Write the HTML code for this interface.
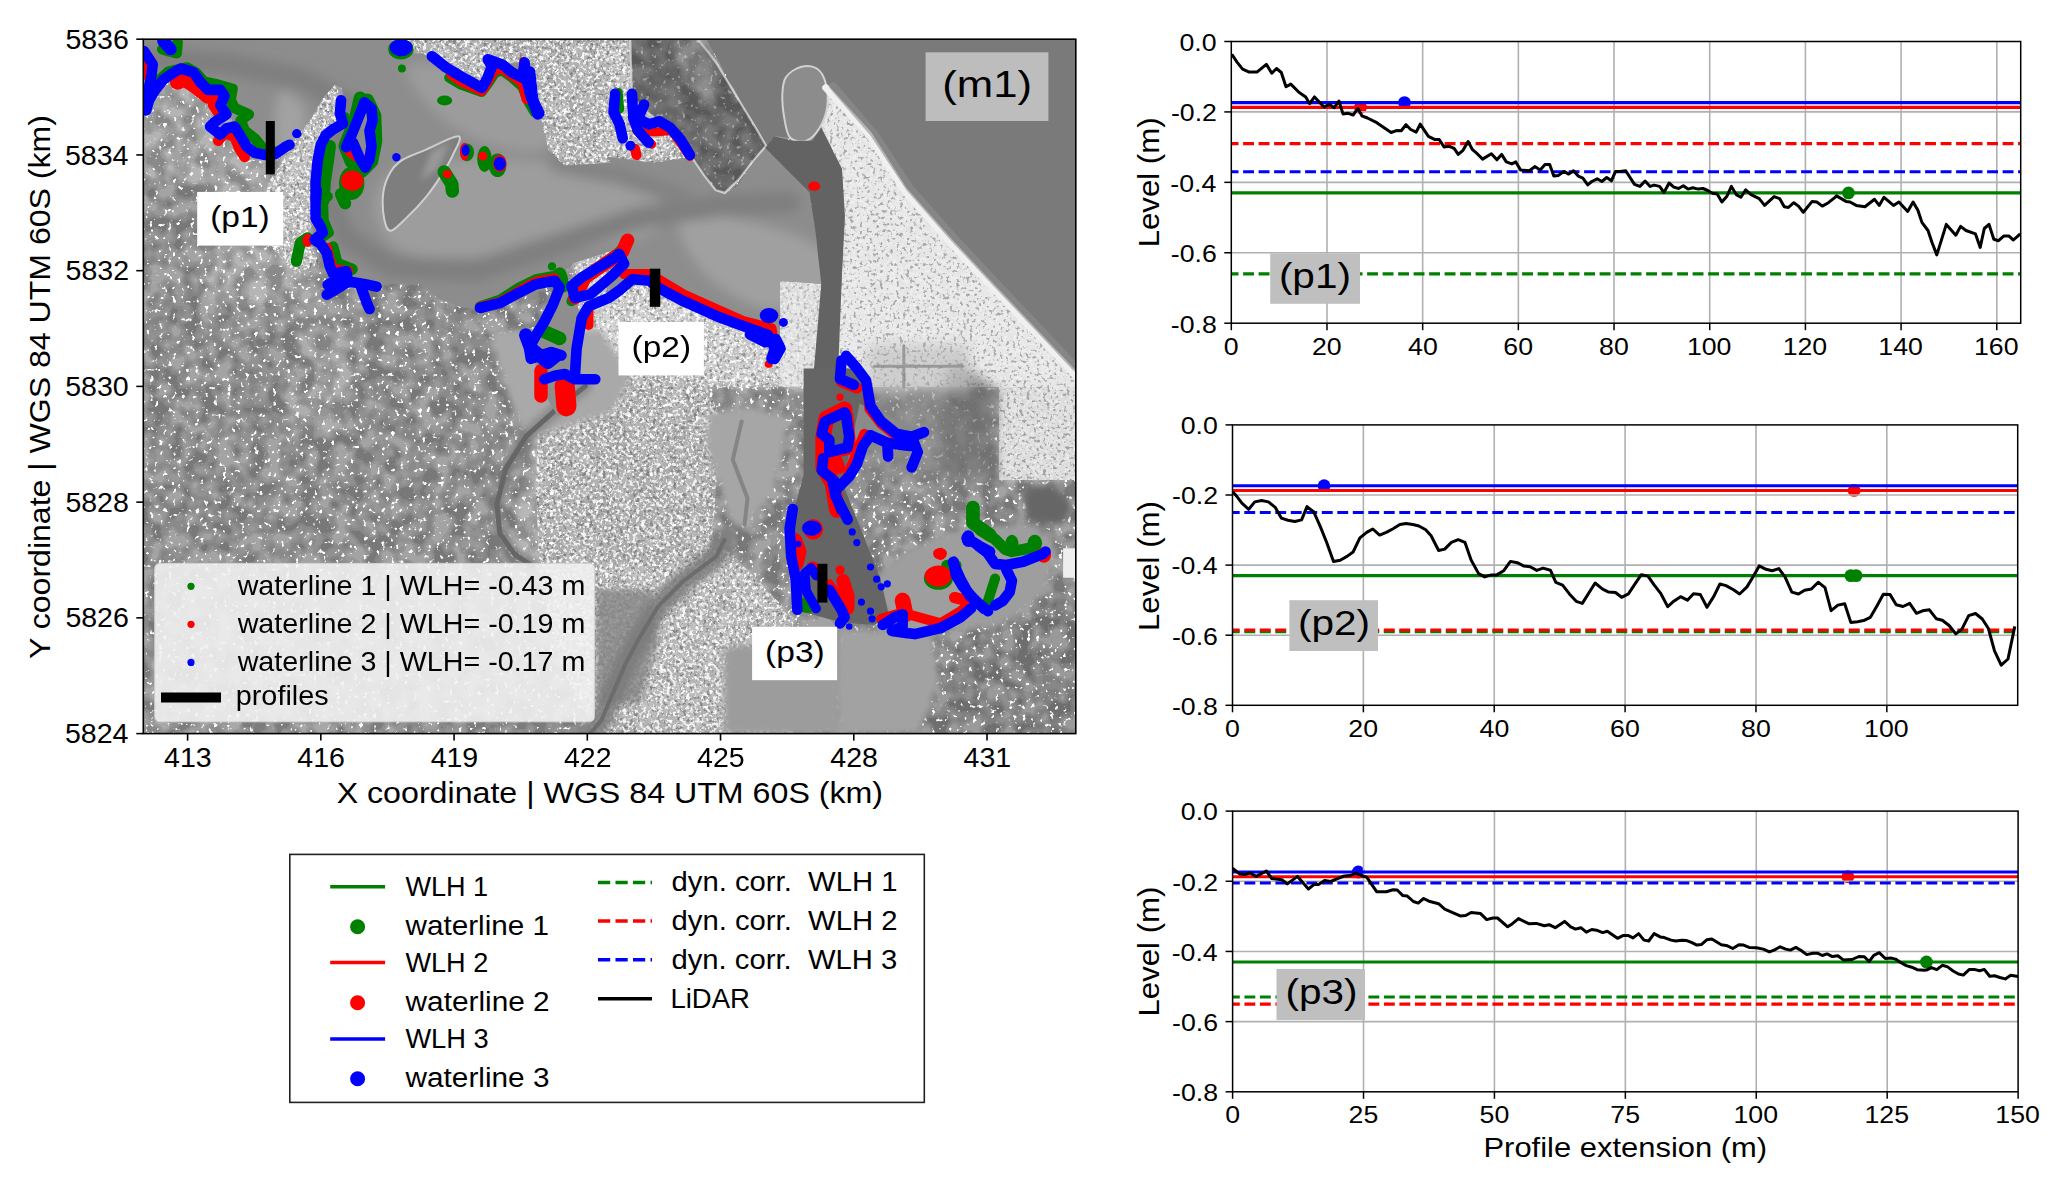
<!DOCTYPE html>
<html><head><meta charset="utf-8"><style>html,body{margin:0;padding:0;background:#fff;overflow:hidden}svg{display:block}</style></head><body>
<svg width="2067" height="1180" viewBox="0 0 2067 1180" font-family='"Liberation Sans", sans-serif'>
<rect width="2067" height="1180" fill="#fff"/>
<defs>
<clipPath id="mapclip"><rect x="143.3" y="39.2" width="932.5" height="694.4"/></clipPath>
<clipPath id="urbclip"><path d="M296.3,136.3 L334.7,84.7 L346.5,112.7 L343.5,127.5 L319.9,142.2 L315.5,204.1 L308.1,242.5 L319.9,263.1 L296.3,274.9 L269.8,245.4 L261.0,204.1 L269.8,180.6 L281.6,162.9 Z"/><path d="M390.7,39.0 L610.1,39.0 L610.1,162.9 L564.7,165.8 L548.5,151.1 L539.6,114.2 L530.8,86.2 L523.4,61.1 L496.9,67.0 L482.1,92.1 L452.6,71.4 L423.2,53.7 L399.6,52.3 Z"/><path d="M608.9,39.0 L630.2,39.0 L631.9,97.1 L647.0,112.1 L659.4,121.3 L677.7,133.7 L691.2,156.4 L653.2,162.9 L608.9,157.0 Z"/><path d="M608.9,298.5 L638.4,274.9 L662.0,280.8 L697.4,298.5 L741.6,322.1 L771.1,330.9 L780.0,348.6 L780.0,387.0 L608.9,387.0 L610.1,387.0 L585.3,387.0 L573.6,363.4 L579.4,304.4 L573.6,263.1 L610.1,251.3 Z"/><path d="M825.7,83.2 L833.1,93.6 L844.9,107.4 L868.4,136.3 L903.8,192.3 L948.1,242.5 L992.3,289.7 L1045.4,345.7 L1076.1,378.1 L1076.1,387.0 L836.0,387.0 L841.9,274.9 L844.9,215.9 L841.9,168.8 L821.3,127.5 L827.2,106.8 Z"/><path d="M780.0,280.8 L821.3,283.8 L815.4,387.0 L780.0,387.0 Z"/><path d="M540.2,376.7 L594.4,372.2 L702.7,379.0 L720.8,417.4 L711.7,552.8 L743.3,588.9 L793.0,616.0 L793.0,733.8 L594.4,733.8 L562.8,670.1 L540.2,579.9 L535.7,489.6 Z"/><path d="M999.1,386.1 L1076.1,374.3 L1076.1,479.9 L999.1,479.9 Z"/><path d="M621.5,566.3 L729.8,552.8 L793.0,616.0 L793.0,733.8 L639.5,733.8 Z"/></clipPath>
<mask id="rurmask" maskUnits="userSpaceOnUse" x="0" y="0" width="2067" height="1180"><rect x="143.3" y="39.2" width="932.5" height="694.4" fill="#fff"/><g fill="#000"><path d="M296.3,136.3 L334.7,84.7 L346.5,112.7 L343.5,127.5 L319.9,142.2 L315.5,204.1 L308.1,242.5 L319.9,263.1 L296.3,274.9 L269.8,245.4 L261.0,204.1 L269.8,180.6 L281.6,162.9 Z"/><path d="M390.7,39.0 L610.1,39.0 L610.1,162.9 L564.7,165.8 L548.5,151.1 L539.6,114.2 L530.8,86.2 L523.4,61.1 L496.9,67.0 L482.1,92.1 L452.6,71.4 L423.2,53.7 L399.6,52.3 Z"/><path d="M608.9,39.0 L630.2,39.0 L631.9,97.1 L647.0,112.1 L659.4,121.3 L677.7,133.7 L691.2,156.4 L653.2,162.9 L608.9,157.0 Z"/><path d="M608.9,298.5 L638.4,274.9 L662.0,280.8 L697.4,298.5 L741.6,322.1 L771.1,330.9 L780.0,348.6 L780.0,387.0 L608.9,387.0 L610.1,387.0 L585.3,387.0 L573.6,363.4 L579.4,304.4 L573.6,263.1 L610.1,251.3 Z"/><path d="M825.7,83.2 L833.1,93.6 L844.9,107.4 L868.4,136.3 L903.8,192.3 L948.1,242.5 L992.3,289.7 L1045.4,345.7 L1076.1,378.1 L1076.1,387.0 L836.0,387.0 L841.9,274.9 L844.9,215.9 L841.9,168.8 L821.3,127.5 L827.2,106.8 Z"/><path d="M780.0,280.8 L821.3,283.8 L815.4,387.0 L780.0,387.0 Z"/><path d="M540.2,376.7 L594.4,372.2 L702.7,379.0 L720.8,417.4 L711.7,552.8 L743.3,588.9 L793.0,616.0 L793.0,733.8 L594.4,733.8 L562.8,670.1 L540.2,579.9 L535.7,489.6 Z"/><path d="M999.1,386.1 L1076.1,374.3 L1076.1,479.9 L999.1,479.9 Z"/><path d="M621.5,566.3 L729.8,552.8 L793.0,616.0 L793.0,733.8 L639.5,733.8 Z"/></g></mask>
<filter id="fields" x="0" y="0" width="100%" height="100%" color-interpolation-filters="sRGB">
<feTurbulence type="fractalNoise" baseFrequency="0.06" numOctaves="2" seed="3"/>
<feComponentTransfer><feFuncR type="linear" slope="2.6" intercept="-0.8"/></feComponentTransfer>
<feComponentTransfer><feFuncR type="discrete" tableValues="0.33 0.44 0.5 0.56 0.63 0.73"/><feFuncA type="linear" slope="0" intercept="0.42"/></feComponentTransfer>
<feColorMatrix type="matrix" values="1 0 0 0 0  1 0 0 0 0  1 0 0 0 0  0 0 0 1 0"/>
</filter>
<filter id="spots" x="0" y="0" width="100%" height="100%" color-interpolation-filters="sRGB">
<feTurbulence type="fractalNoise" baseFrequency="0.22" numOctaves="2" seed="9"/>
<feColorMatrix type="matrix" values="0 0 0 0 1  0 0 0 0 1  0 0 0 0 1  10 0 0 0 -6.4"/>
</filter>
<filter id="uspots" x="0" y="0" width="100%" height="100%" color-interpolation-filters="sRGB">
<feTurbulence type="fractalNoise" baseFrequency="0.3" numOctaves="2" seed="21"/>
<feColorMatrix type="matrix" values="0 0 0 0 1  0 0 0 0 1  0 0 0 0 1  7 0 0 0 -3.5"/>
</filter>
<filter id="udark" x="0" y="0" width="100%" height="100%" color-interpolation-filters="sRGB">
<feTurbulence type="fractalNoise" baseFrequency="0.3" numOctaves="2" seed="5"/>
<feColorMatrix type="matrix" values="0 0 0 0 0.3  0 0 0 0 0.3  0 0 0 0 0.3  0 7 0 0 -4.0"/>
</filter>
<filter id="wtex" x="0" y="0" width="100%" height="100%" color-interpolation-filters="sRGB">
<feTurbulence type="fractalNoise" baseFrequency="0.8" numOctaves="1" seed="2"/>
<feColorMatrix type="matrix" values="0 0 0 0 1  0 0 0 0 1  0 0 0 0 1  0 0 2 0 -1.0"/>
</filter>
<filter id="b3"><feGaussianBlur stdDeviation="3"/></filter>
<filter id="b6"><feGaussianBlur stdDeviation="6"/></filter>
</defs>
<g clip-path="url(#mapclip)">
<rect x="143.3" y="39.2" width="932.5" height="694.4" fill="#939393"/>
<g filter="url(#b3)">
<path d="M143.0,112.7 L150.4,86.2 L163.6,71.4 L181.3,67.9 L194.6,72.9 L206.4,86.2 L219.7,98.0 L228.5,112.7 L240.3,136.3 L255.1,154.0 L272.8,159.9 L284.6,168.8 L278.7,192.3 L261.0,204.1 L216.7,192.3 L178.4,180.6 L143.0,177.6 Z" fill="#b0b0b0" />
<path d="M825.7,83.2 L833.1,93.6 L844.9,107.4 L868.4,136.3 L903.8,192.3 L948.1,242.5 L992.3,289.7 L1045.4,345.7 L1076.1,378.1 L1076.1,387.0 L836.0,387.0 L841.9,274.9 L844.9,215.9 L841.9,168.8 L821.3,127.5 L827.2,106.8 Z" fill="#dcdcdc" />
<path d="M780.0,280.8 L821.3,283.8 L815.4,387.0 L780.0,387.0 Z" fill="#e0e0e0" />
<path d="M296.3,136.3 L334.7,84.7 L346.5,112.7 L343.5,127.5 L319.9,142.2 L315.5,204.1 L308.1,242.5 L319.9,263.1 L296.3,274.9 L269.8,245.4 L261.0,204.1 L269.8,180.6 L281.6,162.9 Z" fill="#c4c4c4" />
<path d="M390.7,39.0 L610.1,39.0 L610.1,162.9 L564.7,165.8 L548.5,151.1 L539.6,114.2 L530.8,86.2 L523.4,61.1 L496.9,67.0 L482.1,92.1 L452.6,71.4 L423.2,53.7 L399.6,52.3 Z" fill="#bababa" />
<path d="M608.9,39.0 L630.2,39.0 L631.9,97.1 L647.0,112.1 L659.4,121.3 L677.7,133.7 L691.2,156.4 L653.2,162.9 L608.9,157.0 Z" fill="#c4c4c4" />
<path d="M608.9,298.5 L638.4,274.9 L662.0,280.8 L697.4,298.5 L741.6,322.1 L771.1,330.9 L780.0,348.6 L780.0,387.0 L608.9,387.0 L610.1,387.0 L585.3,387.0 L573.6,363.4 L579.4,304.4 L573.6,263.1 L610.1,251.3 Z" fill="#d6d6d6" />
<path d="M540.2,376.7 L594.4,372.2 L702.7,379.0 L720.8,417.4 L711.7,552.8 L743.3,588.9 L793.0,616.0 L793.0,733.8 L594.4,733.8 L562.8,670.1 L540.2,579.9 L535.7,489.6 Z" fill="#b8b8b8" />
<path d="M999.1,386.1 L1076.1,374.3 L1076.1,479.9 L999.1,479.9 Z" fill="#cccccc" />
<path d="M143.0,652.1 L170.1,616.0 L233.3,588.9 L323.6,570.8 L459.0,566.3 L531.2,570.8 L549.2,661.1 L594.4,733.8 L143.0,733.8 Z" fill="#9a9a9a" />
<path d="M621.5,566.3 L729.8,552.8 L793.0,616.0 L793.0,733.8 L639.5,733.8 Z" fill="#c0c0c0" />
<path d="M284.6,386.1 L343.5,386.1 L349.4,415.6 L325.8,439.2 L296.3,433.3 Z" fill="#a6a6a6" />
<path d="M282.8,282.5 L310.8,284.4 L329.4,310.5 L348.0,347.8 L357.4,400.0 L320.1,400.0 L307.0,357.0 L292.1,319.8 L273.5,295.6 Z" fill="#a8a8a8" />
<path d="M199.0,245.0 L283.0,245.0 L290.0,290.0 L260.0,312.0 L210.0,300.0 Z" fill="#b2b2b2" />
<path d="M534.7,418.3 L700.0,418.3 L700.0,560.0 L510.5,560.0 L520.2,498.8 L526.6,450.5 Z" fill="#b6b6b6" />
<path d="M847.2,625.0 L955.5,643.1 L1076.0,593.4 L1076.0,733.8 L847.2,733.8 Z" fill="#828282" />
</g>
<g mask="url(#rurmask)"><rect x="143.3" y="39.2" width="932.5" height="694.4" fill="#000" filter="url(#fields)"/></g>
<g clip-path="url(#urbclip)"><rect x="143.3" y="39.2" width="932.5" height="694.4" fill="#000" filter="url(#fields)" opacity="0.35"/></g>
<rect x="143.3" y="39.2" width="932.5" height="694.4" fill="#fff" filter="url(#spots)"/>
<g clip-path="url(#urbclip)"><rect x="143.3" y="39.2" width="932.5" height="694.4" fill="#fff" filter="url(#uspots)" opacity="0.8"/><rect x="143.3" y="39.2" width="932.5" height="694.4" fill="#000" filter="url(#udark)" opacity="0.32"/></g>
<path d="M825.7,83.2 L833.1,93.6 L844.9,107.4 L868.4,136.3 L903.8,192.3 L948.1,242.5 L992.3,289.7 L1045.4,345.7 L1076.1,378.1 L1076.1,387.0 L836.0,387.0 L841.9,274.9 L844.9,215.9 L841.9,168.8 L821.3,127.5 L827.2,106.8 Z" fill="#ececec" opacity="0.82"/>
<clipPath id="u7clip"><path d="M825.7,83.2 L833.1,93.6 L844.9,107.4 L868.4,136.3 L903.8,192.3 L948.1,242.5 L992.3,289.7 L1045.4,345.7 L1076.1,378.1 L1076.1,387.0 L836.0,387.0 L841.9,274.9 L844.9,215.9 L841.9,168.8 L821.3,127.5 L827.2,106.8 Z"/><path d="M999.1,386.1 L1076.1,374.3 L1076.1,479.9 L999.1,479.9 Z"/></clipPath>
<path d="M999.1,386.1 L1076.1,374.3 L1076.1,479.9 L999.1,479.9 Z" fill="#e6e6e6" opacity="0.75"/>
<g clip-path="url(#u7clip)"><rect x="143.3" y="39.2" width="932.5" height="694.4" fill="#000" filter="url(#udark)" opacity="0.22"/></g>
<g filter="url(#b6)">
<path d="M948.1,368.4 L958.4,361.3 L999.1,390.2 L992.3,445.1 L999.1,479.9 L941.6,479.9 L934.8,415.6 Z" fill="#6e6e6e" opacity="0.7"/>
<path d="M867.0,390.2 L941.6,390.2 L941.6,479.9 L867.0,479.9 Z" fill="#8a8a8a" opacity="0.6"/>
<path d="M867.0,343.9 L969.0,343.9 L969.0,389.9 L867.0,389.9 Z" fill="#c4c4c4" opacity="0.7"/>
</g>
<polyline points="874.3,366.3 962.8,366.3" fill="none" stroke="#9a9a9a" stroke-width="3" stroke-linejoin="round" stroke-linecap="round" />
<polyline points="903.8,345.7 903.8,387.0" fill="none" stroke="#9a9a9a" stroke-width="3" stroke-linejoin="round" stroke-linecap="round" />
<path d="M780.0,280.8 L821.3,283.8 L815.4,387.0 L780.0,387.0 Z" fill="#e8e8e8" opacity="0.6"/>
<g clip-path="url(#urbclip)"><rect x="143.3" y="39.2" width="932.5" height="694.4" fill="#000" filter="url(#udark)" opacity="0.18"/></g>
<g filter="url(#b3)">
<path d="M490.0,330.0 L600.0,330.0 L628.0,370.0 L628.0,386.1 L607.1,415.1 L574.9,423.1 L542.7,434.4 L520.2,431.2 L513.7,410.2 L500.0,370.0 Z" fill="#a9a9a9" />
<path d="M709.2,412.6 L750.5,406.7 L785.9,418.5 L782.9,459.8 L768.2,498.2 L747.5,527.6 L732.8,524.7 L721.0,489.3 L706.3,445.1 Z" fill="#a6a6a6" />
<path d="M874.3,577.8 L903.8,551.2 L962.8,527.6 L1036.5,524.7 L1057.2,551.2 L1045.4,592.5 L1007.1,622.0 L918.6,636.8 L889.1,622.0 Z" fill="#9e9e9e" />
<path d="M839.0,627.9 L889.1,630.9 L933.3,636.8 L939.2,681.0 L918.6,734.1 L839.0,734.1 L833.1,681.0 Z" fill="#a2a2a2" />
<path d="M1021.8,492.3 L1051.3,483.4 L1071.9,504.1 L1063.1,524.7 L1027.7,521.7 Z" fill="#666666" />
</g>
<path d="M1063.1,548.3 L1076.1,548.3 L1076.1,577.8 L1063.1,577.8 Z" fill="#eeeeee" />
<polyline points="741.6,421.5 732.8,459.8 747.5,498.2 744.6,524.7" fill="none" stroke="#858585" stroke-width="4" stroke-linejoin="round" stroke-linecap="round" />
<g filter="url(#b3)">
<path d="M596.0,589.0 L650.0,590.0 L658.6,640.0 L640.0,704.0 L596.0,704.0 Z" fill="#858585" opacity="0.8"/>
<path d="M724.0,647.0 L800.0,640.0 L839.0,660.0 L839.0,734.0 L724.0,734.0 Z" fill="#9c9c9c" />
</g>
<polyline points="724.4,540.0 716.2,556.4 683.3,581.1 658.6,605.8 638.9,638.6 625.8,663.3 601.1,720.8 589.6,734.0" fill="none" stroke="#7a7a7a" stroke-width="22" stroke-linejoin="round" stroke-linecap="round" filter="url(#b3)" opacity="0.85"/>
<polyline points="724.4,540.0 716.2,556.4 683.3,581.1 658.6,605.8 638.9,638.6 625.8,663.3 601.1,720.8 589.6,734.0" fill="none" stroke="#6c6c6c" stroke-width="4" stroke-linejoin="round" stroke-linecap="round" />
<polyline points="585.3,386.1 555.9,409.7 526.4,436.2 505.7,468.7 496.9,504.1 499.8,533.5 514.6,554.2 532.3,566.0" fill="none" stroke="#7a7a7a" stroke-width="14" stroke-linejoin="round" stroke-linecap="round" opacity="0.6" filter="url(#b3)"/>
<polyline points="585.3,386.1 555.9,409.7 526.4,436.2 505.7,468.7 496.9,504.1 499.8,533.5 514.6,554.2 532.3,566.0" fill="none" stroke="#666666" stroke-width="5" stroke-linejoin="round" stroke-linecap="round" />
<clipPath id="wclip"><path d="M143.0,39.0 L389.2,39.0 L399.6,52.3 L423.2,53.7 L452.6,71.4 L482.1,92.1 L496.9,67.0 L523.4,61.1 L530.8,86.2 L539.6,114.2 L548.5,151.1 L564.7,165.8 L610.1,162.9 L608.9,157.0 L653.2,162.9 L691.5,157.0 L709.2,174.7 L723.9,193.8 L735.7,187.9 L750.5,165.8 L765.2,148.1 L785.9,168.8 L809.5,192.3 L815.4,230.7 L821.3,283.8 L780.0,280.8 L780.0,348.6 L771.1,330.9 L741.6,322.1 L697.4,298.5 L662.0,280.8 L638.4,274.9 L608.9,298.5 L610.1,251.3 L573.6,263.1 L564.7,272.0 L535.2,292.6 L511.6,298.5 L482.1,310.3 L461.5,307.4 L437.9,298.5 L423.2,283.8 L393.7,283.8 L376.0,286.7 L355.3,277.9 L334.7,266.1 L319.9,251.3 L306.7,242.5 L314.0,230.7 L315.5,204.1 L317.0,171.7 L319.9,142.2 L331.7,133.4 L343.5,127.5 L346.5,112.7 L342.1,87.7 L334.7,84.7 L322.9,98.0 L311.1,118.6 L299.3,133.4 L287.5,148.1 L272.8,159.9 L255.1,154.0 L240.3,136.3 L228.5,112.7 L219.7,98.0 L206.4,86.2 L194.6,72.9 L181.3,67.9 L163.6,71.4 L150.4,86.2 L143.0,112.7 Z"/></clipPath>
<path d="M143.0,39.0 L389.2,39.0 L399.6,52.3 L423.2,53.7 L452.6,71.4 L482.1,92.1 L496.9,67.0 L523.4,61.1 L530.8,86.2 L539.6,114.2 L548.5,151.1 L564.7,165.8 L610.1,162.9 L608.9,157.0 L653.2,162.9 L691.5,157.0 L709.2,174.7 L723.9,193.8 L735.7,187.9 L750.5,165.8 L765.2,148.1 L785.9,168.8 L809.5,192.3 L815.4,230.7 L821.3,283.8 L780.0,280.8 L780.0,348.6 L771.1,330.9 L741.6,322.1 L697.4,298.5 L662.0,280.8 L638.4,274.9 L608.9,298.5 L610.1,251.3 L573.6,263.1 L564.7,272.0 L535.2,292.6 L511.6,298.5 L482.1,310.3 L461.5,307.4 L437.9,298.5 L423.2,283.8 L393.7,283.8 L376.0,286.7 L355.3,277.9 L334.7,266.1 L319.9,251.3 L306.7,242.5 L314.0,230.7 L315.5,204.1 L317.0,171.7 L319.9,142.2 L331.7,133.4 L343.5,127.5 L346.5,112.7 L342.1,87.7 L334.7,84.7 L322.9,98.0 L311.1,118.6 L299.3,133.4 L287.5,148.1 L272.8,159.9 L255.1,154.0 L240.3,136.3 L228.5,112.7 L219.7,98.0 L206.4,86.2 L194.6,72.9 L181.3,67.9 L163.6,71.4 L150.4,86.2 L143.0,112.7 Z" fill="#8d8d8d" />
<g clip-path="url(#wclip)"><g filter="url(#b6)">
<path d="M391.8,171.7 C408.3,162.0 447.0,160.6 474.7,159.2 C502.3,157.9 530.0,160.6 557.6,163.4 C585.2,166.1 623.2,165.5 640.5,175.8 C657.8,186.2 668.2,213.8 661.2,225.6 C654.3,237.3 623.2,241.5 599.1,246.3 C574.9,251.1 547.2,253.2 516.1,254.6 C485.0,256.0 436.0,260.8 412.5,254.6 C389.0,248.4 378.6,231.1 375.2,217.3 C371.7,203.5 375.2,181.3 391.8,171.7 Z" fill="#9d9d9d" />
<path d="M682.0,217.3 C692.3,209.7 740.7,219.3 764.9,225.6 C789.1,231.8 817.4,242.8 827.1,254.6 C836.8,266.3 833.3,287.1 822.9,296.0 C812.6,305.0 784.9,312.6 764.9,308.5 C744.9,304.3 716.5,286.4 702.7,271.2 C688.9,256.0 671.6,224.9 682.0,217.3 Z" fill="#a0a0a0" />
<path d="M412.5,63.9 C427.7,60.4 491.9,70.8 516.1,80.5 C540.3,90.1 554.1,110.2 557.6,121.9 C561.0,133.7 550.7,148.2 536.9,150.9 C523.0,153.7 493.3,146.8 474.7,138.5 C456.0,130.2 435.3,113.6 424.9,101.2 C414.6,88.8 397.3,67.3 412.5,63.9 Z" fill="#9c9c9c" />
<path d="M279.8,92.9 C284.7,87.4 301.2,100.5 304.7,109.5 C308.1,118.5 302.6,137.8 300.5,146.8 C298.5,155.8 296.4,164.1 292.3,163.4 C288.1,162.7 277.7,154.4 275.7,142.6 C273.6,130.9 275.0,98.4 279.8,92.9 Z" fill="#a2a2a2" />
<polyline points="143.0,57.7 225.9,63.9 300.5,78.4 350.3,105.3 337.9,146.8 327.5,196.5 346.2,238.0 391.8,267.0 474.7,271.2 557.6,244.2 640.5,217.3 723.4,204.8 789.8,202.8" fill="none" stroke="#7f7f7f" stroke-width="22" stroke-linejoin="round" stroke-linecap="round" />
<polyline points="557.6,163.4 619.8,175.8 682.0,196.5" fill="none" stroke="#838383" stroke-width="18" stroke-linejoin="round" stroke-linecap="round" />
</g></g>
<path d="M554.6,280.8 L574.9,297.8 L581.7,318.1 L576.6,348.6 L574.9,375.8 L568.1,399.5 L558.0,416.4 L547.8,399.5 L541.0,375.8 L530.8,355.4 L544.4,321.5 L552.9,304.6 Z" fill="#8e8e8e" />
<path d="M458.5,136.3 C454.1,135.3 435.4,145.7 426.1,149.6 C416.8,153.5 408.4,156.2 402.5,159.9 C396.6,163.6 393.9,166.3 390.7,171.7 C387.5,177.1 384.4,184.5 383.3,192.3 C382.3,200.2 383.0,212.5 384.2,218.9 C385.5,225.3 386.9,230.9 390.7,230.7 C394.5,230.4 401.0,223.1 406.9,217.4 C412.8,211.8 420.5,203.7 426.1,196.8 C431.8,189.9 436.4,183.0 440.8,176.1 C445.3,169.2 449.7,162.1 452.6,155.5 C455.6,148.8 463.0,137.3 458.5,136.3 Z" fill="#7e7e7e" stroke="#cfcfcf" stroke-width="2"/>
<g filter="url(#b3)">
<path d="M432.0,151.1 L449.7,142.2 L437.9,168.8 L420.2,180.6 Z" fill="#9a9a9a" />
</g>
<path d="M706.3,39.0 L1076.1,39.0 L1076.1,378.1 L1045.4,345.7 L992.3,289.7 L948.1,242.5 L903.8,192.3 L868.4,136.3 L844.9,107.4 L833.1,93.6 L825.7,83.2 L816.8,68.5 L800.6,67.0 L785.9,77.3 L782.3,95.0 L784.4,118.6 L790.3,137.8 L774.1,136.3 L765.2,148.1 L735.7,92.1 Z" fill="#7a7a7a" />
<path d="M630.2,39.0 L697.4,39.0 L715.7,62.0 L738.7,100.0 L755.5,127.5 L766.1,145.8 L754.0,159.6 L738.7,179.4 L724.8,192.9 L715.7,190.0 L703.6,174.7 L691.2,156.4 L677.7,133.7 L659.4,121.3 L647.0,112.1 L631.9,97.1 Z" fill="#5d5d5d" stroke="#d4d4d4" stroke-width="2.2"/>
<path d="M667.0,39.0 L694.5,39.0 L709.2,56.7 L715.7,92.1 L706.3,100.0 L688.6,83.2 L673.8,56.7 Z" fill="#858585" filter="url(#b3)"/>
<clipPath id="penclip"><path d="M630.2,39.0 L697.4,39.0 L715.7,62.0 L738.7,100.0 L755.5,127.5 L766.1,145.8 L754.0,159.6 L738.7,179.4 L724.8,192.9 L715.7,190.0 L703.6,174.7 L691.2,156.4 L677.7,133.7 L659.4,121.3 L647.0,112.1 L631.9,97.1 Z"/></clipPath>
<g clip-path="url(#penclip)"><rect x="143.3" y="39.2" width="932.5" height="694.4" fill="#000" filter="url(#fields)" opacity="0.7"/><rect x="143.3" y="39.2" width="932.5" height="694.4" fill="#fff" filter="url(#spots)" opacity="0.35"/></g>
<path d="M785.9,77.3 C788.9,72.7 795.5,68.5 800.6,67.0 C805.8,65.5 812.7,65.8 816.8,68.5 C821.0,71.2 824.0,76.8 825.7,83.2 C827.4,89.6 828.1,99.5 827.2,106.8 C826.2,114.2 823.2,121.8 819.8,127.5 C816.4,133.1 811.4,139.0 806.5,140.7 C801.6,142.5 794.0,141.5 790.3,137.8 C786.6,134.1 785.7,125.7 784.4,118.6 C783.1,111.5 782.1,101.9 782.3,95.0 C782.6,88.1 782.8,82.0 785.9,77.3 Z" fill="#8c8c8c" stroke="#d2d2d2" stroke-width="2"/>
<polyline points="825.7,87.7 868.4,134.0 903.8,190.0 948.1,240.1 992.3,287.3 1045.4,343.3 1076.1,375.8" fill="none" stroke="#f0f0f0" stroke-width="7" stroke-linejoin="round" stroke-linecap="round" />
<polyline points="833.1,86.2 874.3,134.0 909.7,187.9 954.0,238.1 998.2,285.2 1051.3,341.3 1076.1,367.8" fill="none" stroke="#8e8e8e" stroke-width="8" stroke-linejoin="round" stroke-linecap="round" opacity="0.6"/>
<path d="M765.2,148.1 L774.1,136.3 L791.8,140.7 L812.4,140.7 L821.3,127.5 L841.9,168.8 L844.9,215.9 L841.9,274.9 L837.5,387.0 L812.4,387.0 L821.3,283.8 L815.4,230.7 L809.5,192.3 L785.9,168.8 Z" fill="#636363" />
<path d="M803.6,368.4 L862.6,368.4 L865.5,430.3 L844.9,489.3 L862.6,533.5 L880.2,577.8 L889.1,616.1 L874.3,625.0 L839.0,622.0 L797.7,610.2 L788.8,563.0 L793.3,512.9 L803.6,474.6 Z" fill="#656565" />
<path d="M859.6,403.8 L921.5,430.3 L924.5,439.2 L889.1,445.1 L859.6,453.9 L844.9,474.6 Z" fill="#8a8a8a" />
</g>
<g clip-path="url(#mapclip)">
<polyline points="156.2,82.7 168.4,71.6 186.7,67.5 195.9,72.6 204.0,81.7 218.3,84.8 232.5,88.8 230.5,100.0 234.6,108.2 248.8,114.3 240.7,120.4 244.7,130.6 254.9,138.7 265.1,150.9 275.2,151.9" fill="none" stroke="#008000" stroke-width="10.64" stroke-linecap="round" stroke-linejoin="round"/>
<polyline points="162.3,49.2 168.4,51.2 176.6,53.2 177.6,42.1" fill="none" stroke="#008000" stroke-width="10.64" stroke-linecap="round" stroke-linejoin="round"/>
<polyline points="329.8,146.1 327.8,161.3 324.7,181.7 323.7,200.0" fill="none" stroke="#008000" stroke-width="12.32" stroke-linecap="round" stroke-linejoin="round"/>
<polyline points="345.1,116.6 342.0,123.7" fill="none" stroke="#008000" stroke-width="8.96" stroke-linecap="round" stroke-linejoin="round"/>
<polyline points="360.3,98.3 355.2,120.7 345.1,146.1 351.2,161.3 361.3,171.5 371.5,161.3 375.6,141.0 374.6,115.6 367.4,100.3" fill="none" stroke="#008000" stroke-width="13.440000000000001" stroke-linecap="round" stroke-linejoin="round"/>
<ellipse cx="351.7" cy="183.2" rx="12.7" ry="16.8" fill="#008000"/>
<polyline points="322.7,190.0 323.7,220.5 328.8,232.7 318.6,239.8" fill="none" stroke="#008000" stroke-width="10.080000000000002" stroke-linecap="round" stroke-linejoin="round"/>
<polyline points="296.3,261.2 300.3,242.9 307.5,237.8" fill="none" stroke="#008000" stroke-width="11.200000000000001" stroke-linecap="round" stroke-linejoin="round"/>
<polyline points="332.9,246.9 336.9,263.2 352.2,269.3" fill="none" stroke="#008000" stroke-width="11.200000000000001" stroke-linecap="round" stroke-linejoin="round"/>
<ellipse cx="328.8" cy="196.6" rx="4.1" ry="4.6" fill="#008000"/>
<polyline points="341.0,194.1 345.1,203.2" fill="none" stroke="#008000" stroke-width="12.32" stroke-linecap="round" stroke-linejoin="round"/>
<ellipse cx="400.9" cy="49.2" rx="12.7" ry="10.2" fill="#008000"/>
<circle cx="401.9" cy="68.5" r="4" fill="#008000"/>
<ellipse cx="444.6" cy="100.5" rx="7.6" ry="5.1" fill="#008000"/>
<polyline points="449.2,77.7 461.4,84.8 481.7,91.9 487.8,83.8 495.0,72.6 502.1,70.5 512.2,77.7 522.4,86.8 527.5,100.0 534.6,112.2" fill="none" stroke="#008000" stroke-width="10.080000000000002" stroke-linecap="round" stroke-linejoin="round"/>
<polyline points="618.2,92.4 619.7,109.2" fill="none" stroke="#008000" stroke-width="8.96" stroke-linecap="round" stroke-linejoin="round"/>
<ellipse cx="467.0" cy="152.3" rx="7.0" ry="8.9" fill="#008000"/>
<ellipse cx="484.5" cy="158.9" rx="7.3" ry="13.0" fill="#008000"/>
<ellipse cx="497.6" cy="165.3" rx="8.9" ry="11.8" fill="#008000"/>
<polyline points="444.2,172.0 451.8,184.0 452.4,191.0" fill="none" stroke="#008000" stroke-width="13.440000000000001" stroke-linecap="round" stroke-linejoin="round"/>
<polyline points="480.0,306.3 500.3,299.5 519.0,287.6 535.9,279.2 554.6,275.8 563.1,280.8" fill="none" stroke="#008000" stroke-width="10.080000000000002" stroke-linecap="round" stroke-linejoin="round"/>
<ellipse cx="552.0" cy="266.4" rx="4.2" ry="4.2" fill="#008000"/>
<polyline points="559.7,274.1 563.1,285.9" fill="none" stroke="#008000" stroke-width="13.440000000000001" stroke-linecap="round" stroke-linejoin="round"/>
<polyline points="544.4,331.7 559.7,338.5" fill="none" stroke="#008000" stroke-width="13.440000000000001" stroke-linecap="round" stroke-linejoin="round"/>
<polyline points="571.5,301.2 581.7,279.2 619.0,252.0 629.2,240.2" fill="none" stroke="#008000" stroke-width="10.080000000000002" stroke-linecap="round" stroke-linejoin="round"/>
<polyline points="843.1,359.0 841.5,362.0" fill="none" stroke="#008000" stroke-width="7.840000000000001" stroke-linecap="round" stroke-linejoin="round"/>
<ellipse cx="806.5" cy="605.1" rx="10.7" ry="7.6" fill="#008000"/>
<polyline points="972.8,507.5 972.8,522.7 990.0,534.9" fill="none" stroke="#008000" stroke-width="13.440000000000001" stroke-linecap="round" stroke-linejoin="round"/>
<polyline points="946.8,565.4 956.0,565.4" fill="none" stroke="#008000" stroke-width="11.200000000000001" stroke-linecap="round" stroke-linejoin="round"/>
<ellipse cx="938.4" cy="578.4" rx="14.5" ry="11.4" fill="#008000"/>
<polyline points="973.9,506.9 973.9,522.5 980.6,530.4 995.1,539.3 1005.2,549.4 1011.9,551.6 1023.1,549.4 1034.3,547.1" fill="none" stroke="#008000" stroke-width="11.200000000000001" stroke-linecap="round" stroke-linejoin="round"/>
<ellipse cx="1011.9" cy="543.8" rx="6.7" ry="9.0" fill="#008000"/>
<ellipse cx="1034.8" cy="543.2" rx="7.3" ry="8.4" fill="#008000"/>
<polyline points="995.1,578.5 987.3,603.1" fill="none" stroke="#008000" stroke-width="10.080000000000002" stroke-linecap="round" stroke-linejoin="round"/>
<polyline points="144.5,62.4 146.1,74.6" fill="none" stroke="#ff0000" stroke-width="10.64" stroke-linecap="round" stroke-linejoin="round"/>
<polyline points="175.6,81.7 181.7,79.7 200.0,91.9 216.2,96.0 213.2,105.1 219.3,114.3" fill="none" stroke="#ff0000" stroke-width="10.64" stroke-linecap="round" stroke-linejoin="round"/>
<polyline points="177.6,81.7 185.7,77.7 208.1,96.0 214.2,96.0" fill="none" stroke="#ff0000" stroke-width="15.680000000000001" stroke-linecap="round" stroke-linejoin="round"/>
<polyline points="218.3,140.7 224.4,132.6 234.6,136.7 239.6,148.9 244.7,157.0" fill="none" stroke="#ff0000" stroke-width="10.64" stroke-linecap="round" stroke-linejoin="round"/>
<ellipse cx="352.2" cy="180.7" rx="11.2" ry="10.2" fill="#ff0000"/>
<polyline points="349.1,151.2 357.3,157.3" fill="none" stroke="#ff0000" stroke-width="10.080000000000002" stroke-linecap="round" stroke-linejoin="round"/>
<ellipse cx="307.5" cy="240.3" rx="5.1" ry="6.6" fill="#ff0000"/>
<polyline points="327.8,246.9 332.9,267.3 349.1,270.3" fill="none" stroke="#ff0000" stroke-width="7.840000000000001" stroke-linecap="round" stroke-linejoin="round"/>
<polyline points="451.2,74.6 461.4,81.7 481.7,90.9 487.8,81.7 493.9,70.5 502.1,68.5 512.2,75.6 522.4,82.7 526.5,99.0" fill="none" stroke="#ff0000" stroke-width="10.080000000000002" stroke-linecap="round" stroke-linejoin="round"/>
<ellipse cx="522.9" cy="60.4" rx="3.6" ry="3.1" fill="#ff0000"/>
<polyline points="644.1,130.5 654.8,132.1 671.6,130.5 689.9,156.5" fill="none" stroke="#ff0000" stroke-width="8.96" stroke-linecap="round" stroke-linejoin="round"/>
<polyline points="636.5,130.5 651.7,144.3" fill="none" stroke="#ff0000" stroke-width="8.96" stroke-linecap="round" stroke-linejoin="round"/>
<polyline points="634.9,148.9 636.5,155.0" fill="none" stroke="#ff0000" stroke-width="10.080000000000002" stroke-linecap="round" stroke-linejoin="round"/>
<ellipse cx="814.2" cy="186.2" rx="6.1" ry="4.6" fill="#ff0000"/>
<ellipse cx="464.5" cy="151.6" rx="4.5" ry="8.9" fill="#ff0000"/>
<ellipse cx="482.9" cy="156.1" rx="4.5" ry="4.5" fill="#ff0000"/>
<ellipse cx="499.8" cy="163.4" rx="6.7" ry="8.6" fill="#ff0000"/>
<ellipse cx="447.3" cy="174.2" rx="4.5" ry="4.1" fill="#ff0000"/>
<polyline points="480.0,307.1 500.3,302.0 519.0,291.0 535.9,281.7 554.6,278.3" fill="none" stroke="#ff0000" stroke-width="10.080000000000002" stroke-linecap="round" stroke-linejoin="round"/>
<polyline points="574.9,297.8 585.1,277.5 622.4,252.0 627.5,240.2" fill="none" stroke="#ff0000" stroke-width="13.440000000000001" stroke-linecap="round" stroke-linejoin="round"/>
<polyline points="541.0,370.7 541.0,396.1" fill="none" stroke="#ff0000" stroke-width="13.440000000000001" stroke-linecap="round" stroke-linejoin="round"/>
<polyline points="564.7,385.9 566.4,406.3" fill="none" stroke="#ff0000" stroke-width="20.160000000000004" stroke-linecap="round" stroke-linejoin="round"/>
<polyline points="588.5,309.7 588.5,324.9" fill="none" stroke="#ff0000" stroke-width="10.080000000000002" stroke-linecap="round" stroke-linejoin="round"/>
<polyline points="624.1,274.1 649.5,274.1 683.4,294.4 717.3,309.7 744.4,321.5 771.5,328.3 774.9,348.6" fill="none" stroke="#ff0000" stroke-width="10.080000000000002" stroke-linecap="round" stroke-linejoin="round"/>
<circle cx="768.1" cy="363.9" r="3.5" fill="#ff0000"/>
<circle cx="769.1" cy="364.3" r="3.5" fill="#ff0000"/>
<polyline points="841.5,381.9 856.8,388.0" fill="none" stroke="#ff0000" stroke-width="11.200000000000001" stroke-linecap="round" stroke-linejoin="round"/>
<circle cx="840.0" cy="397.1" r="3.6" fill="#ff0000"/>
<polyline points="866.0,380.4 869.0,409.3 881.2,424.6 896.5,436.8 911.7,442.9" fill="none" stroke="#ff0000" stroke-width="8.96" stroke-linecap="round" stroke-linejoin="round"/>
<polyline points="844.6,409.3 826.3,418.5 823.2,436.8 823.2,467.3 832.4,482.6 837.0,510.0" fill="none" stroke="#ff0000" stroke-width="15.680000000000001" stroke-linecap="round" stroke-linejoin="round"/>
<polyline points="847.7,415.4 850.7,449.0 835.4,452.1" fill="none" stroke="#ff0000" stroke-width="11.200000000000001" stroke-linecap="round" stroke-linejoin="round"/>
<polyline points="864.4,433.8 856.8,452.1 846.1,479.5" fill="none" stroke="#ff0000" stroke-width="10.080000000000002" stroke-linecap="round" stroke-linejoin="round"/>
<polyline points="835.4,459.7 838.5,467.3" fill="none" stroke="#ff0000" stroke-width="13.440000000000001" stroke-linecap="round" stroke-linejoin="round"/>
<polyline points="795.8,539.5 800.4,551.7 797.3,563.9" fill="none" stroke="#ff0000" stroke-width="12.32" stroke-linecap="round" stroke-linejoin="round"/>
<ellipse cx="813.3" cy="529.2" rx="9.9" ry="10.3" fill="#ff0000"/>
<ellipse cx="812.6" cy="566.6" rx="6.1" ry="5.0" fill="#ff0000"/>
<circle cx="840.0" cy="570.0" r="4.5" fill="#ff0000"/>
<polyline points="843.1,580.7 847.7,596.0 847.7,608.2" fill="none" stroke="#ff0000" stroke-width="13.440000000000001" stroke-linecap="round" stroke-linejoin="round"/>
<polyline points="829.3,583.8 838.5,596.0" fill="none" stroke="#ff0000" stroke-width="8.96" stroke-linecap="round" stroke-linejoin="round"/>
<ellipse cx="940.0" cy="553.6" rx="6.9" ry="5.7" fill="#ff0000"/>
<ellipse cx="938.4" cy="576.1" rx="13.0" ry="10.7" fill="#ff0000"/>
<polyline points="902.6,600.5 905.6,614.3" fill="none" stroke="#ff0000" stroke-width="15.680000000000001" stroke-linecap="round" stroke-linejoin="round"/>
<polyline points="881.2,618.8 902.6,612.7 940.7,623.4 960.6,611.2 974.3,600.5" fill="none" stroke="#ff0000" stroke-width="10.080000000000002" stroke-linecap="round" stroke-linejoin="round"/>
<polyline points="954.5,597.5 966.7,600.5" fill="none" stroke="#ff0000" stroke-width="11.200000000000001" stroke-linecap="round" stroke-linejoin="round"/>
<ellipse cx="940.6" cy="553.9" rx="5.3" ry="6.2" fill="#ff0000"/>
<ellipse cx="937.5" cy="575.7" rx="12.9" ry="9.5" fill="#ff0000"/>
<ellipse cx="1043.8" cy="555.0" rx="7.3" ry="7.8" fill="#ff0000"/>
<polyline points="144.0,51.2 152.7,64.4 151.1,77.7 147.1,96.0 146.1,110.2" fill="none" stroke="#0000ff" stroke-width="10.64" stroke-linecap="round" stroke-linejoin="round"/>
<polyline points="146.1,110.2 149.1,100.0 155.2,89.9 163.3,79.7 173.5,72.6 180.6,68.5 187.8,70.5 193.9,72.6 200.0,81.7 208.1,89.9 220.3,89.9 224.4,96.0 220.3,105.1 226.4,114.3 214.2,122.4 210.1,126.5 220.3,134.6 226.4,128.5 234.6,126.5 239.6,134.6 246.8,146.8 254.9,152.9 265.1,155.0 275.2,154.0 285.4,146.8 289.5,144.8" fill="none" stroke="#0000ff" stroke-width="10.64" stroke-linecap="round" stroke-linejoin="round"/>
<polyline points="163.3,41.0 170.5,49.2" fill="none" stroke="#0000ff" stroke-width="12.32" stroke-linecap="round" stroke-linejoin="round"/>
<circle cx="296.6" cy="133.6" r="4.5" fill="#0000ff"/>
<polyline points="341.0,124.7 333.9,128.8 325.8,134.9 320.7,145.1 317.6,161.3 315.6,181.7 315.6,200.0" fill="none" stroke="#0000ff" stroke-width="10.64" stroke-linecap="round" stroke-linejoin="round"/>
<polyline points="341.0,100.3 340.0,113.6 343.0,123.7" fill="none" stroke="#0000ff" stroke-width="10.64" stroke-linecap="round" stroke-linejoin="round"/>
<polyline points="346.1,147.1 353.2,130.8 361.3,110.5 364.4,102.4 371.5,108.5 372.5,120.7 369.5,130.8 371.5,146.1 369.5,159.3 365.4,167.4 359.3,157.3 353.2,143.0 346.1,147.1" fill="none" stroke="#0000ff" stroke-width="10.64" stroke-linecap="round" stroke-linejoin="round"/>
<circle cx="297.3" cy="133.9" r="4.2" fill="#0000ff"/>
<circle cx="396.4" cy="157.3" r="4.2" fill="#0000ff"/>
<polyline points="316.6,190.0 315.6,205.3 315.6,218.5 320.7,226.6 322.7,232.7 314.6,239.8 320.7,243.9 326.8,253.0 329.8,266.3 332.9,273.4 346.1,271.3 347.1,275.4 327.8,284.6" fill="none" stroke="#0000ff" stroke-width="10.64" stroke-linecap="round" stroke-linejoin="round"/>
<polyline points="326.8,294.7 349.1,281.5 366.4,284.6 376.6,286.6" fill="none" stroke="#0000ff" stroke-width="10.64" stroke-linecap="round" stroke-linejoin="round"/>
<polyline points="361.3,287.6 366.4,301.8 369.5,309.0" fill="none" stroke="#0000ff" stroke-width="10.64" stroke-linecap="round" stroke-linejoin="round"/>
<ellipse cx="401.1" cy="47.6" rx="11.4" ry="8.6" fill="#0000ff"/>
<polyline points="431.9,56.3 446.1,67.5 461.4,76.6 481.7,87.8 486.8,79.7 491.9,66.5 487.8,59.3 502.1,64.4 512.2,72.6 522.4,77.7 524.5,62.4 526.5,79.7 530.6,96.0 537.7,114.3" fill="none" stroke="#0000ff" stroke-width="10.64" stroke-linecap="round" stroke-linejoin="round"/>
<polyline points="530.0,71.6 533.1,100.0 539.2,113.3" fill="none" stroke="#0000ff" stroke-width="10.64" stroke-linecap="round" stroke-linejoin="round"/>
<polyline points="615.1,93.9 613.6,112.2 619.7,124.4 622.7,138.2" fill="none" stroke="#0000ff" stroke-width="10.64" stroke-linecap="round" stroke-linejoin="round"/>
<polyline points="631.9,93.9 633.4,118.3 638.0,130.5 648.7,142.8" fill="none" stroke="#0000ff" stroke-width="10.64" stroke-linecap="round" stroke-linejoin="round"/>
<polyline points="644.1,104.6 638.0,118.3 648.7,124.4 659.4,121.4 670.0,127.5 680.7,139.7 689.9,155.0" fill="none" stroke="#0000ff" stroke-width="10.64" stroke-linecap="round" stroke-linejoin="round"/>
<circle cx="630.4" cy="145.8" r="5" fill="#0000ff"/>
<ellipse cx="465.5" cy="150.3" rx="4.1" ry="5.7" fill="#0000ff"/>
<ellipse cx="499.8" cy="163.7" rx="6.0" ry="7.0" fill="#0000ff"/>
<polyline points="480.0,308.0 500.3,302.9 519.0,292.7 535.9,284.2 554.6,280.8 559.7,287.6 552.9,304.6 544.4,321.5 534.2,338.5 529.2,348.6 530.8,358.8 541.0,355.4 551.2,352.0 561.4,355.4" fill="none" stroke="#0000ff" stroke-width="10.64" stroke-linecap="round" stroke-linejoin="round"/>
<polyline points="525.8,335.1 530.8,348.6 547.8,362.2 556.3,355.4" fill="none" stroke="#0000ff" stroke-width="13.440000000000001" stroke-linecap="round" stroke-linejoin="round"/>
<polyline points="544.4,379.2 554.6,375.8 564.7,374.1 574.9,379.2 595.3,379.2" fill="none" stroke="#0000ff" stroke-width="10.64" stroke-linecap="round" stroke-linejoin="round"/>
<polyline points="574.9,375.8 576.6,348.6 581.7,318.1 588.5,306.3 608.8,297.8 620.7,289.3 632.5,279.2 649.5,280.8 658.0,287.6 683.4,301.2 717.3,316.4 744.4,326.6 768.1,335.1 774.9,348.6 771.5,358.8" fill="none" stroke="#0000ff" stroke-width="10.64" stroke-linecap="round" stroke-linejoin="round"/>
<polyline points="574.9,297.8 571.5,285.9 581.7,277.5 598.6,267.3 615.6,257.1 619.0,253.7 624.1,263.9 612.2,275.8 590.2,294.4 574.9,297.8" fill="none" stroke="#0000ff" stroke-width="10.64" stroke-linecap="round" stroke-linejoin="round"/>
<ellipse cx="769.0" cy="315.6" rx="9.3" ry="7.6" fill="#0000ff"/>
<circle cx="783.4" cy="322.4" r="4.5" fill="#0000ff"/>
<polyline points="750.0,334.6 765.3,342.2 775.9,339.2 780.5,348.3 774.4,359.0" fill="none" stroke="#0000ff" stroke-width="10.64" stroke-linecap="round" stroke-linejoin="round"/>
<polyline points="846.1,355.9 856.8,368.1 866.0,380.4 870.5,406.3 881.2,421.5 896.5,433.8 911.7,436.8 923.9,432.2" fill="none" stroke="#0000ff" stroke-width="10.64" stroke-linecap="round" stroke-linejoin="round"/>
<polyline points="911.7,436.8 917.8,452.1 911.7,467.3" fill="none" stroke="#0000ff" stroke-width="10.64" stroke-linecap="round" stroke-linejoin="round"/>
<polyline points="841.5,360.5 840.0,378.8 853.8,384.9" fill="none" stroke="#0000ff" stroke-width="10.64" stroke-linecap="round" stroke-linejoin="round"/>
<polyline points="844.6,412.4 824.8,421.5 821.7,433.8 829.3,439.9 829.3,452.1 835.4,450.5 847.7,447.5 849.2,436.8 846.1,415.4 844.6,412.4" fill="none" stroke="#0000ff" stroke-width="10.64" stroke-linecap="round" stroke-linejoin="round"/>
<polyline points="823.2,458.2 821.7,470.4 830.9,478.0 837.0,484.1 835.4,494.8 841.5,510.0" fill="none" stroke="#0000ff" stroke-width="10.64" stroke-linecap="round" stroke-linejoin="round"/>
<polyline points="870.5,435.3 862.9,446.0 856.8,464.3 849.2,476.5 838.5,487.2" fill="none" stroke="#0000ff" stroke-width="10.64" stroke-linecap="round" stroke-linejoin="round"/>
<polyline points="870.5,435.3 887.3,442.9 910.2,446.0" fill="none" stroke="#0000ff" stroke-width="10.64" stroke-linecap="round" stroke-linejoin="round"/>
<polyline points="887.3,442.9 888.1,456.6" fill="none" stroke="#0000ff" stroke-width="10.64" stroke-linecap="round" stroke-linejoin="round"/>
<polyline points="832.4,480.0 835.4,495.3 847.7,519.7" fill="none" stroke="#0000ff" stroke-width="10.64" stroke-linecap="round" stroke-linejoin="round"/>
<polyline points="792.7,509.0 789.7,528.8 791.2,556.3 795.8,579.2 797.3,609.7" fill="none" stroke="#0000ff" stroke-width="10.64" stroke-linecap="round" stroke-linejoin="round"/>
<ellipse cx="811.8" cy="528.1" rx="9.9" ry="7.6" fill="#0000ff"/>
<circle cx="798.1" cy="544.1" r="3.3" fill="#0000ff"/>
<polyline points="816.2,608.6 806.1,590.8 804.8,573.1 811.2,568.0 816.2,575.7" fill="none" stroke="#0000ff" stroke-width="9.520000000000001" stroke-linecap="round" stroke-linejoin="round"/>
<polyline points="829.3,589.9 841.5,609.7 844.6,617.3 840.0,623.4" fill="none" stroke="#0000ff" stroke-width="10.64" stroke-linecap="round" stroke-linejoin="round"/>
<circle cx="849.2" cy="626.5" r="3.3" fill="#0000ff"/>
<circle cx="852.2" cy="531.9" r="3.6" fill="#0000ff"/>
<circle cx="856.8" cy="542.6" r="3.6" fill="#0000ff"/>
<circle cx="870.5" cy="567.0" r="3.6" fill="#0000ff"/>
<circle cx="876.6" cy="579.2" r="3.6" fill="#0000ff"/>
<circle cx="881.2" cy="586.8" r="3.6" fill="#0000ff"/>
<circle cx="887.3" cy="583.8" r="3.6" fill="#0000ff"/>
<circle cx="861.4" cy="602.1" r="3.6" fill="#0000ff"/>
<circle cx="870.5" cy="611.2" r="3.6" fill="#0000ff"/>
<circle cx="872.1" cy="618.8" r="3.6" fill="#0000ff"/>
<polyline points="882.7,624.9 894.9,617.3 902.6,614.3 902.6,626.5 891.9,631.1 914.8,634.1 940.7,628.0 960.6,617.3 971.2,608.2" fill="none" stroke="#0000ff" stroke-width="10.64" stroke-linecap="round" stroke-linejoin="round"/>
<polyline points="952.9,562.4 960.6,579.2 969.7,596.0 988.0,611.2" fill="none" stroke="#0000ff" stroke-width="10.64" stroke-linecap="round" stroke-linejoin="round"/>
<polyline points="966.7,538.0 978.9,545.6 990.0,551.7" fill="none" stroke="#0000ff" stroke-width="10.64" stroke-linecap="round" stroke-linejoin="round"/>
<ellipse cx="968.3" cy="538.7" rx="6.7" ry="8.4" fill="#0000ff"/>
<polyline points="978.3,546.0 987.3,552.7 995.1,563.9 1006.3,565.0 1023.1,561.7 1043.2,553.9 1045.5,551.6" fill="none" stroke="#0000ff" stroke-width="10.64" stroke-linecap="round" stroke-linejoin="round"/>
<polyline points="953.7,561.7 955.9,575.1 962.7,586.3 972.7,597.5 983.9,608.7" fill="none" stroke="#0000ff" stroke-width="10.64" stroke-linecap="round" stroke-linejoin="round"/>
<polyline points="1006.3,569.5 1011.9,580.7 1009.7,591.9 1002.9,600.8 995.1,605.3" fill="none" stroke="#0000ff" stroke-width="10.64" stroke-linecap="round" stroke-linejoin="round"/>
<rect x="265.8" y="121" width="9" height="53.4" fill="#000"/>
<rect x="649.8" y="268.7" width="10.5" height="38.1" fill="#000"/>
<rect x="817.4" y="563.8" width="10" height="38.8" fill="#000"/>
<rect x="197.2" y="191.9" width="85.9" height="53.7" fill="#fff"/>
<text transform="translate(210.22,226.90) scale(1.1165,1)" font-size="30.00" fill="#000" style="white-space:pre">(p1)</text>
<rect x="618.5" y="322" width="85.4" height="53.4" fill="#fff"/>
<text transform="translate(631.52,357.00) scale(1.1165,1)" font-size="30.00" fill="#000" style="white-space:pre">(p2)</text>
<rect x="752.1" y="626.8" width="85" height="53.4" fill="#fff"/>
<text transform="translate(765.12,661.80) scale(1.1165,1)" font-size="30.00" fill="#000" style="white-space:pre">(p3)</text>
<rect x="925.6" y="52.3" width="122.8" height="68.7" fill="#bdbdbd"/>
<text transform="translate(942.29,97.20) scale(1.1967,1)" font-size="36.50" fill="#000" style="white-space:pre">(m1)</text>
<rect x="154.8" y="563.4" width="439.6" height="158.4" rx="5" ry="5" fill="#f2f2f2" fill-opacity="0.88" stroke="#d4d4d4" stroke-width="1"/>
<circle cx="191" cy="586.3" r="3.6" fill="#008000"/>
<text transform="translate(237.66,594.90) scale(1.0068,1)" font-size="28.50" fill="#000" style="white-space:pre">waterline 1 | WLH= -0.43 m</text>
<circle cx="191" cy="624.3" r="3.6" fill="#ff0000"/>
<text transform="translate(237.66,632.90) scale(1.0068,1)" font-size="28.50" fill="#000" style="white-space:pre">waterline 2 | WLH= -0.19 m</text>
<circle cx="191" cy="662.4" r="3.6" fill="#0000ff"/>
<text transform="translate(237.66,671.00) scale(1.0068,1)" font-size="28.50" fill="#000" style="white-space:pre">waterline 3 | WLH= -0.17 m</text>
<rect x="161" y="692.5" width="60" height="10" fill="#000"/>
<text transform="translate(235.76,705.40) scale(1.0108,1)" font-size="28.50" fill="#000" style="white-space:pre">profiles</text>
</g>
<rect x="143.3" y="39.2" width="932.5" height="694.4" fill="none" stroke="#000" stroke-width="1.6"/>
<line x1="136.30" y1="39.20" x2="143.30" y2="39.20" stroke="#000" stroke-width="1.6" />
<text transform="translate(65.38,48.80) scale(1.0650,1)" font-size="26.80" fill="#000" style="white-space:pre">5836</text>
<line x1="136.30" y1="154.93" x2="143.30" y2="154.93" stroke="#000" stroke-width="1.6" />
<text transform="translate(64.98,164.53) scale(1.0650,1)" font-size="26.80" fill="#000" style="white-space:pre">5834</text>
<line x1="136.30" y1="270.67" x2="143.30" y2="270.67" stroke="#000" stroke-width="1.6" />
<text transform="translate(65.55,280.27) scale(1.0650,1)" font-size="26.80" fill="#000" style="white-space:pre">5832</text>
<line x1="136.30" y1="386.40" x2="143.30" y2="386.40" stroke="#000" stroke-width="1.6" />
<text transform="translate(65.21,396.00) scale(1.0650,1)" font-size="26.80" fill="#000" style="white-space:pre">5830</text>
<line x1="136.30" y1="502.13" x2="143.30" y2="502.13" stroke="#000" stroke-width="1.6" />
<text transform="translate(65.38,511.73) scale(1.0650,1)" font-size="26.80" fill="#000" style="white-space:pre">5828</text>
<line x1="136.30" y1="617.87" x2="143.30" y2="617.87" stroke="#000" stroke-width="1.6" />
<text transform="translate(65.38,627.47) scale(1.0650,1)" font-size="26.80" fill="#000" style="white-space:pre">5826</text>
<line x1="136.30" y1="733.60" x2="143.30" y2="733.60" stroke="#000" stroke-width="1.6" />
<text transform="translate(64.98,743.20) scale(1.0650,1)" font-size="26.80" fill="#000" style="white-space:pre">5824</text>
<line x1="187.60" y1="733.60" x2="187.60" y2="740.60" stroke="#000" stroke-width="1.6" />
<text transform="translate(164.11,767.40) scale(1.0650,1)" font-size="26.80" fill="#000" style="white-space:pre">413</text>
<line x1="320.83" y1="733.60" x2="320.83" y2="740.60" stroke="#000" stroke-width="1.6" />
<text transform="translate(297.34,767.40) scale(1.0650,1)" font-size="26.80" fill="#000" style="white-space:pre">416</text>
<line x1="454.07" y1="733.60" x2="454.07" y2="740.60" stroke="#000" stroke-width="1.6" />
<text transform="translate(430.63,767.40) scale(1.0650,1)" font-size="26.80" fill="#000" style="white-space:pre">419</text>
<line x1="587.30" y1="733.60" x2="587.30" y2="740.60" stroke="#000" stroke-width="1.6" />
<text transform="translate(563.90,767.40) scale(1.0650,1)" font-size="26.80" fill="#000" style="white-space:pre">422</text>
<line x1="720.53" y1="733.60" x2="720.53" y2="740.60" stroke="#000" stroke-width="1.6" />
<text transform="translate(697.01,767.40) scale(1.0650,1)" font-size="26.80" fill="#000" style="white-space:pre">425</text>
<line x1="853.77" y1="733.60" x2="853.77" y2="740.60" stroke="#000" stroke-width="1.6" />
<text transform="translate(830.28,767.40) scale(1.0650,1)" font-size="26.80" fill="#000" style="white-space:pre">428</text>
<line x1="987.00" y1="733.60" x2="987.00" y2="740.60" stroke="#000" stroke-width="1.6" />
<text transform="translate(963.57,767.40) scale(1.0650,1)" font-size="26.80" fill="#000" style="white-space:pre">431</text>
<text transform="translate(336.63,802.70) scale(1.0908,1)" font-size="29.50" fill="#000" style="white-space:pre">X coordinate | WGS 84 UTM 60S (km)</text>
<text transform="translate(49.70,659.01) rotate(-90) scale(1.0872,1)" font-size="29.50" fill="#000" style="white-space:pre">Y coordinate | WGS 84 UTM 60S (km)</text>
<clipPath id="clip41"><rect x="1231.3" y="41.5" width="789.4000000000001" height="281.7"/></clipPath>
<g clip-path="url(#clip41)">
<circle cx="1360.47" cy="107.35" r="6.4" fill="#ff0000"/>
<circle cx="1404.49" cy="102.59" r="6.4" fill="#0000ff"/>
<circle cx="1848.47" cy="192.91" r="6.4" fill="#008000"/>
</g>
<line x1="1326.98" y1="41.50" x2="1326.98" y2="323.20" stroke="#b0b0b0" stroke-width="1.6" />
<line x1="1422.67" y1="41.50" x2="1422.67" y2="323.20" stroke="#b0b0b0" stroke-width="1.6" />
<line x1="1518.35" y1="41.50" x2="1518.35" y2="323.20" stroke="#b0b0b0" stroke-width="1.6" />
<line x1="1614.04" y1="41.50" x2="1614.04" y2="323.20" stroke="#b0b0b0" stroke-width="1.6" />
<line x1="1709.72" y1="41.50" x2="1709.72" y2="323.20" stroke="#b0b0b0" stroke-width="1.6" />
<line x1="1805.41" y1="41.50" x2="1805.41" y2="323.20" stroke="#b0b0b0" stroke-width="1.6" />
<line x1="1901.09" y1="41.50" x2="1901.09" y2="323.20" stroke="#b0b0b0" stroke-width="1.6" />
<line x1="1996.78" y1="41.50" x2="1996.78" y2="323.20" stroke="#b0b0b0" stroke-width="1.6" />
<line x1="1231.30" y1="111.92" x2="2020.70" y2="111.92" stroke="#b0b0b0" stroke-width="1.6" />
<line x1="1231.30" y1="182.35" x2="2020.70" y2="182.35" stroke="#b0b0b0" stroke-width="1.6" />
<line x1="1231.30" y1="252.77" x2="2020.70" y2="252.77" stroke="#b0b0b0" stroke-width="1.6" />
<g clip-path="url(#clip41)">
<line x1="1231.30" y1="102.59" x2="2020.70" y2="102.59" stroke="#0000ff" stroke-width="3.1" />
<line x1="1231.30" y1="107.35" x2="2020.70" y2="107.35" stroke="#ff0000" stroke-width="3.1" />
<line x1="1231.30" y1="143.62" x2="2020.70" y2="143.62" stroke="#ff0000" stroke-width="3.1" stroke-dasharray="10.9 4.6" stroke-dashoffset="3.7"/>
<line x1="1231.30" y1="171.79" x2="2020.70" y2="171.79" stroke="#0000ff" stroke-width="3.1" stroke-dasharray="10.9 4.6" stroke-dashoffset="3.7"/>
<line x1="1231.30" y1="192.91" x2="2020.70" y2="192.91" stroke="#008000" stroke-width="3.1" />
<line x1="1231.30" y1="273.90" x2="2020.70" y2="273.90" stroke="#008000" stroke-width="3.1" stroke-dasharray="10.9 4.6" stroke-dashoffset="3.7"/>
<polyline points="1231.8,54.2 1237.2,62.4 1242.6,69.1 1248.7,71.9 1256.9,72.1 1266.4,64.4 1271.8,73.2 1276.5,68.5 1281.3,72.5 1286.0,86.8 1290.8,84.1 1298.9,92.2 1305.7,96.9 1309.7,103.7 1314.5,96.9 1324.0,107.1 1329.4,104.4 1334.1,107.8 1338.9,101.0 1343.0,113.9 1347.7,113.2 1353.1,115.0 1357.9,108.5 1361.9,115.9 1367.4,118.0 1376.8,122.7 1391.1,132.5 1396.5,130.6 1401.2,130.8 1406.0,124.7 1410.7,129.5 1416.2,132.2 1420.2,124.1 1428.4,136.3 1435.0,139.6 1439.2,139.5 1444.0,146.9 1449.4,146.3 1454.1,148.3 1458.2,154.4 1463.0,150.3 1468.1,141.5 1472.5,149.7 1477.2,153.7 1482.6,159.1 1491.4,153.7 1496.9,159.8 1501.6,154.4 1506.3,161.9 1511.8,163.9 1515.8,161.9 1520.6,170.0 1529.4,170.7 1534.8,166.6 1540.2,170.0 1545.0,164.6 1549.7,164.6 1553.8,176.1 1558.5,175.4 1564.0,171.4 1568.7,174.1 1573.5,170.7 1578.2,176.1 1582.9,178.1 1587.7,184.9 1591.8,181.5 1597.2,178.8 1601.9,181.5 1606.7,177.5 1611.4,180.8 1615.5,171.4 1620.2,171.4 1625.7,170.7 1634.5,184.4 1639.9,186.4 1645.1,181.0 1650.1,186.4 1654.1,185.1 1659.6,186.4 1664.0,192.5 1669.1,183.0 1673.8,187.1 1678.6,188.5 1683.3,185.8 1688.0,189.1 1692.8,187.8 1698.2,189.1 1703.0,188.5 1707.7,190.5 1712.4,193.2 1717.2,193.9 1721.9,202.0 1726.7,196.6 1731.4,186.4 1736.2,194.6 1740.9,197.3 1745.7,189.8 1751.1,194.6 1759.2,198.6 1764.6,205.4 1774.1,196.6 1779.6,198.6 1784.3,206.8 1788.4,207.5 1793.8,202.7 1798.5,206.1 1803.3,212.2 1812.1,201.4 1816.8,202.0 1822.3,206.1 1828.4,202.7 1835.0,197.3 1836.5,195.9 1846.0,201.4 1850.1,202.0 1856.2,205.4 1865.0,206.8 1874.5,199.3 1879.2,205.4 1884.0,197.3 1893.5,205.4 1898.9,202.0 1907.7,211.5 1913.1,202.0 1917.9,210.2 1921.9,222.4 1928.0,230.5 1932.1,242.7 1936.8,254.9 1946.3,224.4 1955.8,235.2 1960.6,226.4 1966.0,230.5 1975.5,233.9 1980.2,247.4 1984.3,228.5 1989.0,224.4 1993.8,239.3 1998.5,240.7 2004.0,235.9 2008.7,235.9 2013.4,240.0 2020.2,233.9" fill="none" stroke="#000" stroke-width="3.0" stroke-linejoin="round" />
</g>
<rect x="1270.2" y="253.4" width="89.79999999999995" height="50.400000000000006" fill="#bfbfbf"/>
<rect x="1231.3" y="41.5" width="789.4000000000001" height="281.7" fill="none" stroke="#000" stroke-width="1.5"/>
<line x1="1231.30" y1="323.20" x2="1231.30" y2="330.20" stroke="#000" stroke-width="1.5" />
<text transform="translate(1223.85,354.70) scale(1.0900,1)" font-size="24.50" fill="#000" style="white-space:pre">0</text>
<line x1="1326.98" y1="323.20" x2="1326.98" y2="330.20" stroke="#000" stroke-width="1.5" />
<text transform="translate(1311.98,354.70) scale(1.0900,1)" font-size="24.50" fill="#000" style="white-space:pre">20</text>
<line x1="1422.67" y1="323.20" x2="1422.67" y2="330.20" stroke="#000" stroke-width="1.5" />
<text transform="translate(1408.04,354.70) scale(1.0900,1)" font-size="24.50" fill="#000" style="white-space:pre">40</text>
<line x1="1518.35" y1="323.20" x2="1518.35" y2="330.20" stroke="#000" stroke-width="1.5" />
<text transform="translate(1503.35,354.70) scale(1.0900,1)" font-size="24.50" fill="#000" style="white-space:pre">60</text>
<line x1="1614.04" y1="323.20" x2="1614.04" y2="330.20" stroke="#000" stroke-width="1.5" />
<text transform="translate(1599.11,354.70) scale(1.0900,1)" font-size="24.50" fill="#000" style="white-space:pre">80</text>
<line x1="1709.72" y1="323.20" x2="1709.72" y2="330.20" stroke="#000" stroke-width="1.5" />
<text transform="translate(1686.94,354.70) scale(1.0900,1)" font-size="24.50" fill="#000" style="white-space:pre">100</text>
<line x1="1805.41" y1="323.20" x2="1805.41" y2="330.20" stroke="#000" stroke-width="1.5" />
<text transform="translate(1782.63,354.70) scale(1.0900,1)" font-size="24.50" fill="#000" style="white-space:pre">120</text>
<line x1="1901.09" y1="323.20" x2="1901.09" y2="330.20" stroke="#000" stroke-width="1.5" />
<text transform="translate(1878.31,354.70) scale(1.0900,1)" font-size="24.50" fill="#000" style="white-space:pre">140</text>
<line x1="1996.78" y1="323.20" x2="1996.78" y2="330.20" stroke="#000" stroke-width="1.5" />
<text transform="translate(1974.00,354.70) scale(1.0900,1)" font-size="24.50" fill="#000" style="white-space:pre">160</text>
<line x1="1224.30" y1="41.50" x2="1231.30" y2="41.50" stroke="#000" stroke-width="1.5" />
<text transform="translate(1179.49,50.80) scale(1.0900,1)" font-size="24.50" fill="#000" style="white-space:pre">0.0</text>
<line x1="1224.30" y1="111.92" x2="1231.30" y2="111.92" stroke="#000" stroke-width="1.5" />
<text transform="translate(1170.90,121.22) scale(1.0900,1)" font-size="24.50" fill="#000" style="white-space:pre">-0.2</text>
<line x1="1224.30" y1="182.35" x2="1231.30" y2="182.35" stroke="#000" stroke-width="1.5" />
<text transform="translate(1170.36,191.65) scale(1.0900,1)" font-size="24.50" fill="#000" style="white-space:pre">-0.4</text>
<line x1="1224.30" y1="252.77" x2="1231.30" y2="252.77" stroke="#000" stroke-width="1.5" />
<text transform="translate(1170.74,262.07) scale(1.0900,1)" font-size="24.50" fill="#000" style="white-space:pre">-0.6</text>
<line x1="1224.30" y1="323.20" x2="1231.30" y2="323.20" stroke="#000" stroke-width="1.5" />
<text transform="translate(1170.74,332.50) scale(1.0900,1)" font-size="24.50" fill="#000" style="white-space:pre">-0.8</text>
<text transform="translate(1278.89,288.20) scale(1.1252,1)" font-size="36.00" fill="#000" style="white-space:pre">(p1)</text>
<text transform="translate(1158.60,247.36) rotate(-90) scale(1.0760,1)" font-size="29.00" fill="#000" style="white-space:pre">Level (m)</text>
<clipPath id="clip424"><rect x="1232.5" y="424.9" width="785.2" height="280.4"/></clipPath>
<g clip-path="url(#clip424)">
<circle cx="1324.11" cy="485.71" r="6.4" fill="#0000ff"/>
<circle cx="1854.12" cy="490.44" r="6.4" fill="#ff0000"/>
<circle cx="1850.85" cy="575.62" r="6.4" fill="#008000"/>
<circle cx="1856.08" cy="575.62" r="6.4" fill="#008000"/>
</g>
<line x1="1363.37" y1="424.90" x2="1363.37" y2="705.30" stroke="#b0b0b0" stroke-width="1.6" />
<line x1="1494.23" y1="424.90" x2="1494.23" y2="705.30" stroke="#b0b0b0" stroke-width="1.6" />
<line x1="1625.10" y1="424.90" x2="1625.10" y2="705.30" stroke="#b0b0b0" stroke-width="1.6" />
<line x1="1755.97" y1="424.90" x2="1755.97" y2="705.30" stroke="#b0b0b0" stroke-width="1.6" />
<line x1="1886.83" y1="424.90" x2="1886.83" y2="705.30" stroke="#b0b0b0" stroke-width="1.6" />
<line x1="1232.50" y1="495.00" x2="2017.70" y2="495.00" stroke="#b0b0b0" stroke-width="1.6" />
<line x1="1232.50" y1="565.10" x2="2017.70" y2="565.10" stroke="#b0b0b0" stroke-width="1.6" />
<line x1="1232.50" y1="635.20" x2="2017.70" y2="635.20" stroke="#b0b0b0" stroke-width="1.6" />
<g clip-path="url(#clip424)">
<line x1="1232.50" y1="485.71" x2="2017.70" y2="485.71" stroke="#0000ff" stroke-width="3.1" />
<line x1="1232.50" y1="490.44" x2="2017.70" y2="490.44" stroke="#ff0000" stroke-width="3.1" />
<line x1="1232.50" y1="512.52" x2="2017.70" y2="512.52" stroke="#0000ff" stroke-width="3.1" stroke-dasharray="10.9 4.6" stroke-dashoffset="3.7"/>
<line x1="1232.50" y1="575.62" x2="2017.70" y2="575.62" stroke="#008000" stroke-width="3.1" />
<line x1="1232.50" y1="631.69" x2="2017.70" y2="631.69" stroke="#008000" stroke-width="3.1" stroke-dasharray="10.9 4.6" stroke-dashoffset="3.7"/>
<line x1="1232.50" y1="629.94" x2="2017.70" y2="629.94" stroke="#ff0000" stroke-width="3.1" stroke-dasharray="10.9 4.6" stroke-dashoffset="3.7"/>
<polyline points="1232.5,491.7 1235.8,495.1 1241.9,503.2 1248.7,509.3 1254.8,501.9 1261.6,500.5 1268.4,501.9 1275.2,507.3 1281.3,518.1 1288.0,520.2 1294.8,521.5 1301.6,519.9 1307.0,506.6 1313.8,512.0 1319.9,525.6 1326.7,542.5 1333.5,561.5 1340.2,560.2 1347.0,556.4 1353.1,552.0 1359.9,537.8 1366.7,532.4 1372.8,529.0 1379.6,535.1 1386.3,532.4 1393.1,528.7 1399.9,524.5 1406.0,523.6 1412.8,524.5 1418.9,526.0 1425.7,529.7 1431.1,535.8 1438.6,550.5 1444.7,549.1 1451.4,542.4 1458.2,539.7 1465.0,542.4 1471.1,560.0 1478.6,573.6 1484.7,576.9 1491.4,574.9 1496.9,574.9 1503.6,570.8 1510.4,561.4 1517.2,562.7 1524.0,566.1 1530.1,566.8 1536.8,570.4 1543.0,568.1 1550.4,570.2 1555.8,582.4 1562.6,585.1 1569.4,593.9 1576.2,601.3 1582.3,603.4 1595.1,583.0 1602.6,589.1 1608.7,592.1 1615.5,592.5 1621.6,597.3 1628.4,593.9 1635.2,583.6 1641.3,574.7 1648.0,576.1 1654.1,584.9 1660.9,593.7 1667.7,606.6 1673.8,601.2 1680.6,596.7 1687.4,600.2 1693.5,593.7 1700.2,594.4 1707.0,607.3 1713.8,596.4 1719.9,584.0 1726.0,585.6 1733.5,589.7 1739.6,594.0 1747.0,586.9 1753.1,576.8 1759.2,565.9 1766.0,569.3 1772.1,570.7 1778.9,568.6 1785.0,576.8 1791.8,592.1 1798.5,594.0 1804.6,590.3 1811.4,589.0 1818.2,582.2 1825.0,587.6 1831.1,610.7 1837.9,605.1 1844.7,603.8 1850.8,622.4 1857.5,621.7 1863.6,620.6 1870.4,617.3 1877.2,605.4 1883.3,594.3 1890.1,594.6 1896.2,604.7 1903.0,606.5 1909.7,603.4 1916.5,613.3 1922.6,610.8 1929.4,609.8 1936.2,618.7 1942.3,620.3 1949.1,625.5 1955.8,633.9 1961.9,629.1 1968.7,615.6 1975.5,613.5 1982.3,619.0 1988.4,628.5 1994.5,650.8 2001.2,665.1 2008.0,659.0 2014.8,626.4" fill="none" stroke="#000" stroke-width="3.0" stroke-linejoin="round" />
</g>
<rect x="1289.4" y="600.2" width="88.59999999999991" height="50.799999999999955" fill="#bfbfbf"/>
<rect x="1232.5" y="424.9" width="785.2" height="280.4" fill="none" stroke="#000" stroke-width="1.5"/>
<line x1="1232.50" y1="705.30" x2="1232.50" y2="712.30" stroke="#000" stroke-width="1.5" />
<text transform="translate(1225.05,736.80) scale(1.0900,1)" font-size="24.50" fill="#000" style="white-space:pre">0</text>
<line x1="1363.37" y1="705.30" x2="1363.37" y2="712.30" stroke="#000" stroke-width="1.5" />
<text transform="translate(1348.36,736.80) scale(1.0900,1)" font-size="24.50" fill="#000" style="white-space:pre">20</text>
<line x1="1494.23" y1="705.30" x2="1494.23" y2="712.30" stroke="#000" stroke-width="1.5" />
<text transform="translate(1479.60,736.80) scale(1.0900,1)" font-size="24.50" fill="#000" style="white-space:pre">40</text>
<line x1="1625.10" y1="705.30" x2="1625.10" y2="712.30" stroke="#000" stroke-width="1.5" />
<text transform="translate(1610.09,736.80) scale(1.0900,1)" font-size="24.50" fill="#000" style="white-space:pre">60</text>
<line x1="1755.97" y1="705.30" x2="1755.97" y2="712.30" stroke="#000" stroke-width="1.5" />
<text transform="translate(1741.04,736.80) scale(1.0900,1)" font-size="24.50" fill="#000" style="white-space:pre">80</text>
<line x1="1886.83" y1="705.30" x2="1886.83" y2="712.30" stroke="#000" stroke-width="1.5" />
<text transform="translate(1864.05,736.80) scale(1.0900,1)" font-size="24.50" fill="#000" style="white-space:pre">100</text>
<line x1="1225.50" y1="424.90" x2="1232.50" y2="424.90" stroke="#000" stroke-width="1.5" />
<text transform="translate(1180.69,434.20) scale(1.0900,1)" font-size="24.50" fill="#000" style="white-space:pre">0.0</text>
<line x1="1225.50" y1="495.00" x2="1232.50" y2="495.00" stroke="#000" stroke-width="1.5" />
<text transform="translate(1172.10,504.30) scale(1.0900,1)" font-size="24.50" fill="#000" style="white-space:pre">-0.2</text>
<line x1="1225.50" y1="565.10" x2="1232.50" y2="565.10" stroke="#000" stroke-width="1.5" />
<text transform="translate(1171.56,574.40) scale(1.0900,1)" font-size="24.50" fill="#000" style="white-space:pre">-0.4</text>
<line x1="1225.50" y1="635.20" x2="1232.50" y2="635.20" stroke="#000" stroke-width="1.5" />
<text transform="translate(1171.94,644.50) scale(1.0900,1)" font-size="24.50" fill="#000" style="white-space:pre">-0.6</text>
<line x1="1225.50" y1="705.30" x2="1232.50" y2="705.30" stroke="#000" stroke-width="1.5" />
<text transform="translate(1171.94,714.60) scale(1.0900,1)" font-size="24.50" fill="#000" style="white-space:pre">-0.8</text>
<text transform="translate(1297.99,634.70) scale(1.1252,1)" font-size="36.00" fill="#000" style="white-space:pre">(p2)</text>
<text transform="translate(1158.60,631.06) rotate(-90) scale(1.0760,1)" font-size="29.00" fill="#000" style="white-space:pre">Level (m)</text>
<clipPath id="clip811"><rect x="1232.6" y="811.1" width="785.5" height="280.69999999999993"/></clipPath>
<g clip-path="url(#clip811)">
<circle cx="1358.28" cy="871.98" r="6.4" fill="#0000ff"/>
<circle cx="1847.91" cy="876.71" r="6.4" fill="#ff0000"/>
<circle cx="1926.46" cy="961.98" r="6.4" fill="#008000"/>
</g>
<line x1="1363.52" y1="811.10" x2="1363.52" y2="1091.80" stroke="#b0b0b0" stroke-width="1.6" />
<line x1="1494.43" y1="811.10" x2="1494.43" y2="1091.80" stroke="#b0b0b0" stroke-width="1.6" />
<line x1="1625.35" y1="811.10" x2="1625.35" y2="1091.80" stroke="#b0b0b0" stroke-width="1.6" />
<line x1="1756.27" y1="811.10" x2="1756.27" y2="1091.80" stroke="#b0b0b0" stroke-width="1.6" />
<line x1="1887.18" y1="811.10" x2="1887.18" y2="1091.80" stroke="#b0b0b0" stroke-width="1.6" />
<line x1="1232.60" y1="881.27" x2="2018.10" y2="881.27" stroke="#b0b0b0" stroke-width="1.6" />
<line x1="1232.60" y1="951.45" x2="2018.10" y2="951.45" stroke="#b0b0b0" stroke-width="1.6" />
<line x1="1232.60" y1="1021.62" x2="2018.10" y2="1021.62" stroke="#b0b0b0" stroke-width="1.6" />
<g clip-path="url(#clip811)">
<line x1="1232.60" y1="871.98" x2="2018.10" y2="871.98" stroke="#0000ff" stroke-width="3.1" />
<line x1="1232.60" y1="876.71" x2="2018.10" y2="876.71" stroke="#ff0000" stroke-width="3.1" />
<line x1="1232.60" y1="883.03" x2="2018.10" y2="883.03" stroke="#0000ff" stroke-width="3.1" stroke-dasharray="10.9 4.6" stroke-dashoffset="3.7"/>
<line x1="1232.60" y1="961.98" x2="2018.10" y2="961.98" stroke="#008000" stroke-width="3.1" />
<line x1="1232.60" y1="997.06" x2="2018.10" y2="997.06" stroke="#008000" stroke-width="3.1" stroke-dasharray="10.9 4.6" stroke-dashoffset="3.7"/>
<line x1="1232.60" y1="1004.08" x2="2018.10" y2="1004.08" stroke="#ff0000" stroke-width="3.1" stroke-dasharray="10.9 4.6" stroke-dashoffset="3.7"/>
<polyline points="1232.5,868.3 1239.9,874.1 1245.3,874.4 1250.1,873.0 1256.2,876.4 1266.4,871.0 1271.8,878.5 1281.9,879.8 1287.4,883.9 1297.5,876.4 1308.4,889.0 1313.8,884.6 1318.5,884.6 1324.6,880.5 1330.7,881.5 1337.5,878.7 1344.3,876.0 1350.4,875.5 1355.8,873.0 1361.9,875.8 1366.7,877.1 1376.8,891.8 1386.3,891.8 1393.1,889.7 1397.2,890.0 1402.6,895.4 1407.3,896.1 1413.4,901.5 1418.2,903.1 1423.6,898.5 1429.0,901.2 1438.6,903.7 1444.7,909.1 1452.1,912.3 1460.2,915.9 1465.7,915.5 1471.1,912.5 1480.6,913.6 1486.7,919.6 1492.8,918.0 1497.5,918.0 1507.7,926.8 1512.4,923.7 1518.5,918.6 1528.7,923.7 1536.2,923.4 1544.3,925.8 1549.1,924.7 1555.2,927.7 1564.6,921.4 1570.7,926.8 1575.5,929.1 1580.9,927.7 1586.3,932.2 1591.8,929.5 1596.5,930.2 1602.6,932.6 1607.3,931.2 1617.5,938.3 1622.9,935.6 1628.4,935.6 1633.1,937.9 1638.6,933.6 1644.0,940.1 1648.7,941.0 1654.1,933.6 1660.2,936.9 1664.3,937.6 1671.1,940.1 1675.8,941.0 1681.9,940.3 1686.7,940.6 1691.4,942.4 1696.9,945.1 1701.6,944.4 1707.0,939.7 1711.8,939.0 1721.3,944.7 1727.4,945.8 1732.8,948.5 1738.9,944.7 1743.6,945.1 1749.1,947.4 1756.5,947.8 1763.3,949.1 1769.4,951.9 1774.1,950.1 1780.2,946.8 1785.7,949.1 1790.4,950.1 1795.8,947.4 1801.2,950.5 1806.7,954.6 1812.8,953.2 1817.5,953.2 1822.3,955.5 1827.0,953.9 1832.4,956.6 1837.9,955.8 1843.3,959.9 1852.1,959.5 1858.9,956.5 1864.3,956.8 1869.1,961.5 1873.8,955.4 1879.2,952.7 1885.3,958.5 1891.4,958.1 1895.5,959.1 1900.2,962.2 1906.3,965.6 1911.8,967.2 1917.2,969.7 1924.6,970.3 1927.4,969.7 1931.4,967.6 1936.8,969.7 1942.3,965.3 1947.7,966.9 1953.1,971.0 1958.5,974.0 1963.3,975.1 1969.4,969.4 1974.1,969.4 1979.6,970.7 1984.3,969.4 1989.7,976.2 1994.5,975.8 1999.9,977.5 2005.3,978.9 2010.7,975.3 2018.2,976.4" fill="none" stroke="#000" stroke-width="3.0" stroke-linejoin="round" />
</g>
<rect x="1276.5" y="969" width="88.5" height="51" fill="#bfbfbf"/>
<rect x="1232.6" y="811.1" width="785.5" height="280.69999999999993" fill="none" stroke="#000" stroke-width="1.5"/>
<line x1="1232.60" y1="1091.80" x2="1232.60" y2="1098.80" stroke="#000" stroke-width="1.5" />
<text transform="translate(1225.15,1123.30) scale(1.0900,1)" font-size="24.50" fill="#000" style="white-space:pre">0</text>
<line x1="1363.52" y1="1091.80" x2="1363.52" y2="1098.80" stroke="#000" stroke-width="1.5" />
<text transform="translate(1348.56,1123.30) scale(1.0900,1)" font-size="24.50" fill="#000" style="white-space:pre">25</text>
<line x1="1494.43" y1="1091.80" x2="1494.43" y2="1098.80" stroke="#000" stroke-width="1.5" />
<text transform="translate(1479.56,1123.30) scale(1.0900,1)" font-size="24.50" fill="#000" style="white-space:pre">50</text>
<line x1="1625.35" y1="1091.80" x2="1625.35" y2="1098.80" stroke="#000" stroke-width="1.5" />
<text transform="translate(1610.37,1123.30) scale(1.0900,1)" font-size="24.50" fill="#000" style="white-space:pre">75</text>
<line x1="1756.27" y1="1091.80" x2="1756.27" y2="1098.80" stroke="#000" stroke-width="1.5" />
<text transform="translate(1733.49,1123.30) scale(1.0900,1)" font-size="24.50" fill="#000" style="white-space:pre">100</text>
<line x1="1887.18" y1="1091.80" x2="1887.18" y2="1098.80" stroke="#000" stroke-width="1.5" />
<text transform="translate(1864.46,1123.30) scale(1.0900,1)" font-size="24.50" fill="#000" style="white-space:pre">125</text>
<line x1="2018.10" y1="1091.80" x2="2018.10" y2="1098.80" stroke="#000" stroke-width="1.5" />
<text transform="translate(1995.32,1123.30) scale(1.0900,1)" font-size="24.50" fill="#000" style="white-space:pre">150</text>
<line x1="1225.60" y1="811.10" x2="1232.60" y2="811.10" stroke="#000" stroke-width="1.5" />
<text transform="translate(1180.79,820.40) scale(1.0900,1)" font-size="24.50" fill="#000" style="white-space:pre">0.0</text>
<line x1="1225.60" y1="881.27" x2="1232.60" y2="881.27" stroke="#000" stroke-width="1.5" />
<text transform="translate(1172.20,890.57) scale(1.0900,1)" font-size="24.50" fill="#000" style="white-space:pre">-0.2</text>
<line x1="1225.60" y1="951.45" x2="1232.60" y2="951.45" stroke="#000" stroke-width="1.5" />
<text transform="translate(1171.66,960.75) scale(1.0900,1)" font-size="24.50" fill="#000" style="white-space:pre">-0.4</text>
<line x1="1225.60" y1="1021.62" x2="1232.60" y2="1021.62" stroke="#000" stroke-width="1.5" />
<text transform="translate(1172.04,1030.92) scale(1.0900,1)" font-size="24.50" fill="#000" style="white-space:pre">-0.6</text>
<line x1="1225.60" y1="1091.80" x2="1232.60" y2="1091.80" stroke="#000" stroke-width="1.5" />
<text transform="translate(1172.04,1101.10) scale(1.0900,1)" font-size="24.50" fill="#000" style="white-space:pre">-0.8</text>
<text transform="translate(1285.49,1003.60) scale(1.1252,1)" font-size="36.00" fill="#000" style="white-space:pre">(p3)</text>
<text transform="translate(1158.60,1016.56) rotate(-90) scale(1.0760,1)" font-size="29.00" fill="#000" style="white-space:pre">Level (m)</text>
<text transform="translate(1483.46,1156.60) scale(1.1251,1)" font-size="27.50" fill="#000" style="white-space:pre">Profile extension (m)</text>
<rect x="289.8" y="854.4" width="634.5" height="248" fill="#fff" stroke="#222" stroke-width="1.6"/>
<line x1="330.20" y1="886.70" x2="385.10" y2="886.70" stroke="#008000" stroke-width="3.5" />
<text transform="translate(405.39,895.70) scale(0.9609,1)" font-size="28.20" fill="#000" style="white-space:pre">WLH 1</text>
<circle cx="357.6" cy="926.8" r="7.5" fill="#008000"/>
<text transform="translate(405.56,934.80) scale(1.0520,1)" font-size="28.20" fill="#000" style="white-space:pre">waterline 1</text>
<line x1="330.20" y1="962.60" x2="385.10" y2="962.60" stroke="#ff0000" stroke-width="3.5" />
<text transform="translate(405.39,971.60) scale(0.9615,1)" font-size="28.20" fill="#000" style="white-space:pre">WLH 2</text>
<circle cx="357.6" cy="1002.8" r="7.5" fill="#ff0000"/>
<text transform="translate(405.56,1010.80) scale(1.0569,1)" font-size="28.20" fill="#000" style="white-space:pre">waterline 2</text>
<line x1="330.20" y1="1038.90" x2="385.10" y2="1038.90" stroke="#0000ff" stroke-width="3.5" />
<text transform="translate(405.39,1047.90) scale(0.9667,1)" font-size="28.20" fill="#000" style="white-space:pre">WLH 3</text>
<circle cx="357.6" cy="1078.8" r="7.5" fill="#0000ff"/>
<text transform="translate(405.56,1086.80) scale(1.0555,1)" font-size="28.20" fill="#000" style="white-space:pre">waterline 3</text>
<line x1="598.00" y1="882.40" x2="652.00" y2="882.40" stroke="#008000" stroke-width="3.5" stroke-dasharray="12.2 5.3"/>
<text transform="translate(671.47,891.40) scale(1.0382,1)" font-size="28.20" fill="#000" style="white-space:pre">dyn. corr.  WLH 1</text>
<line x1="598.00" y1="921.10" x2="652.00" y2="921.10" stroke="#ff0000" stroke-width="3.5" stroke-dasharray="12.2 5.3"/>
<text transform="translate(671.47,930.10) scale(1.0385,1)" font-size="28.20" fill="#000" style="white-space:pre">dyn. corr.  WLH 2</text>
<line x1="598.00" y1="959.70" x2="652.00" y2="959.70" stroke="#0000ff" stroke-width="3.5" stroke-dasharray="12.2 5.3"/>
<text transform="translate(671.47,968.70) scale(1.0376,1)" font-size="28.20" fill="#000" style="white-space:pre">dyn. corr.  WLH 3</text>
<line x1="598.00" y1="998.70" x2="652.00" y2="998.70" stroke="#000" stroke-width="3.5" />
<text transform="translate(670.44,1007.70) scale(0.9758,1)" font-size="28.20" fill="#000" style="white-space:pre">LiDAR</text>
</svg>
</body></html>
